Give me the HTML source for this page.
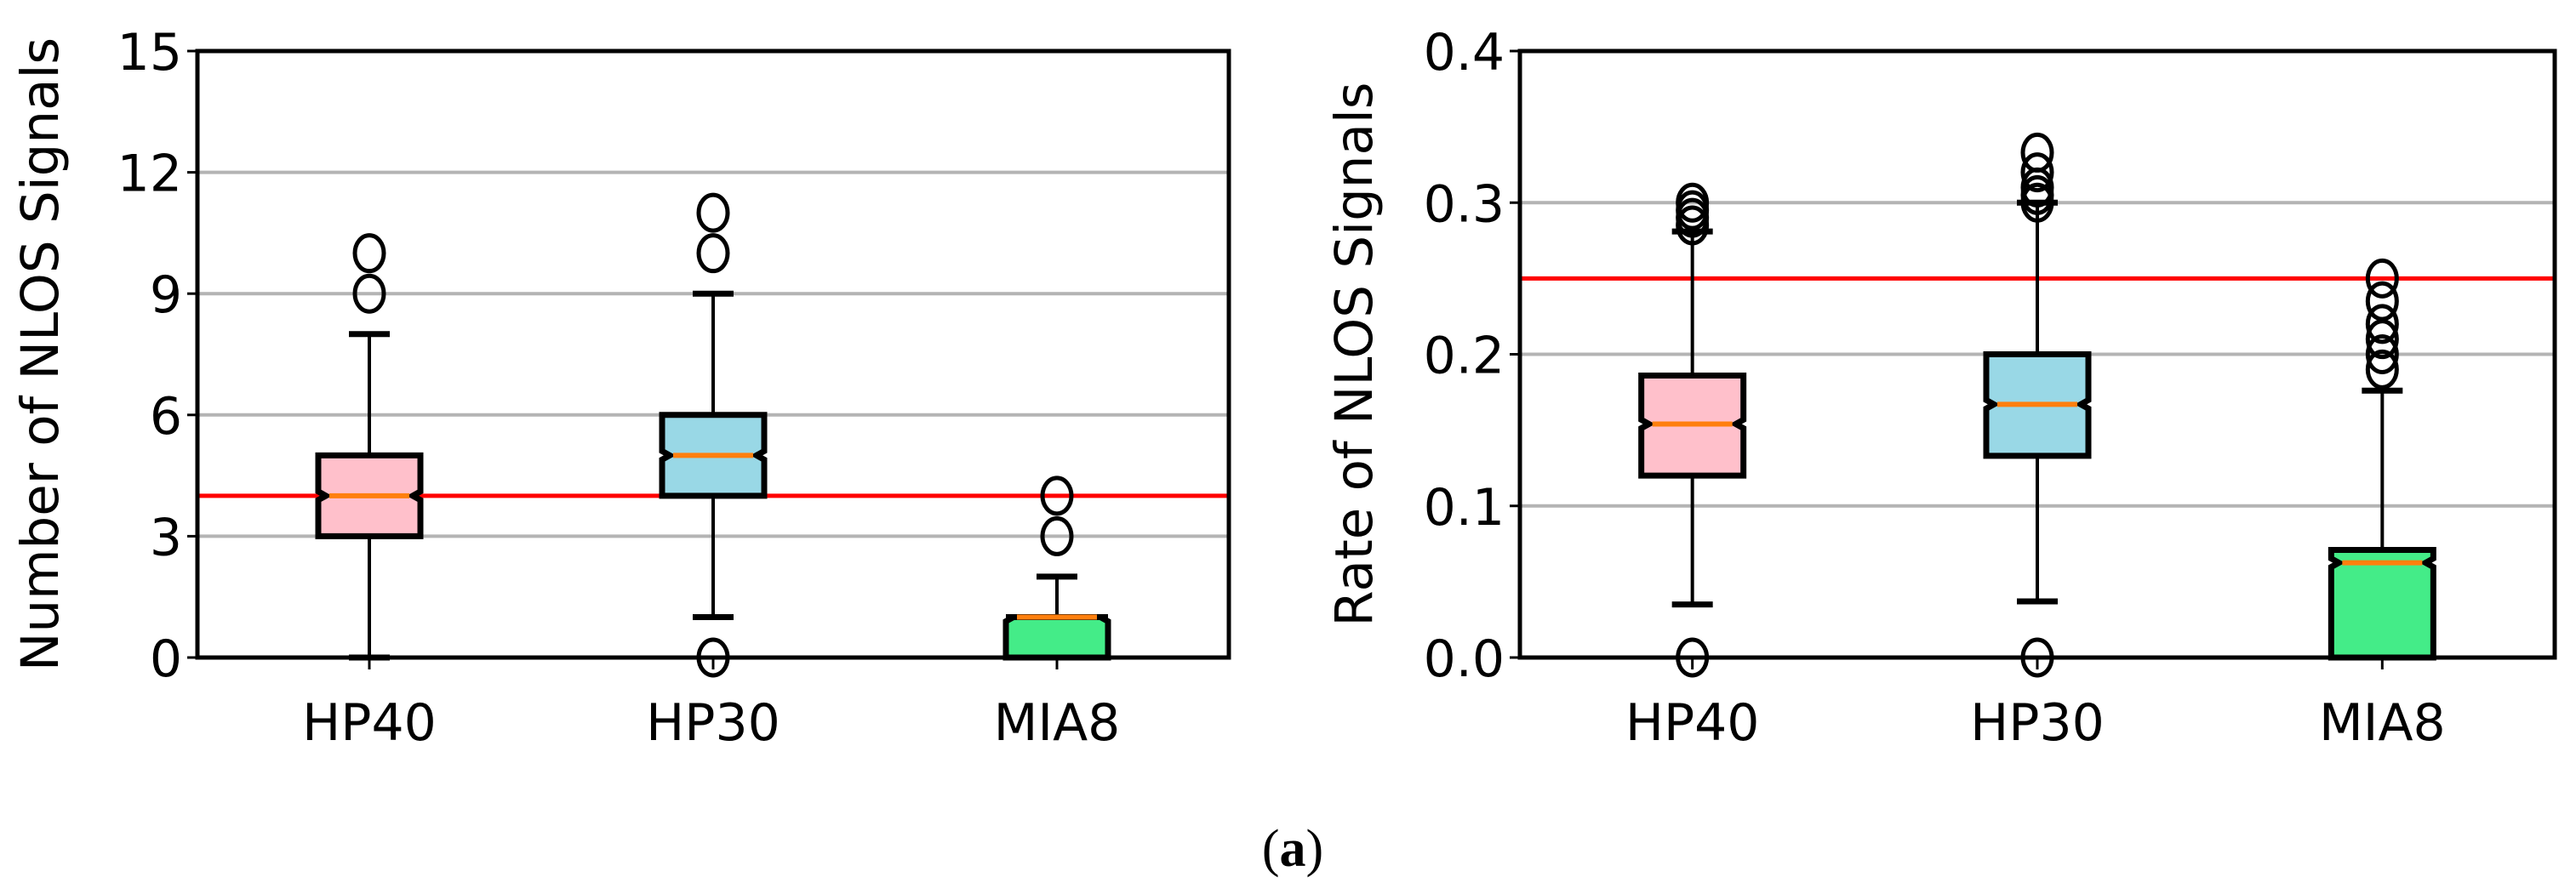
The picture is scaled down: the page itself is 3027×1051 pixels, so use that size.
<!DOCTYPE html>
<html><head><meta charset="utf-8"><style>
html,body{margin:0;padding:0;background:#fff;}
svg{display:block;}
text{font-family:"DejaVu Sans","Liberation Sans",sans-serif;fill:#000;}
</style></head><body>
<svg id="fig" xmlns="http://www.w3.org/2000/svg" width="3027" height="1051" viewBox="0 0 3027 1051">
<text x="1519" y="1018" text-anchor="middle" style="font-family:'Liberation Serif',serif;font-size:62px">(<tspan font-weight="bold">a</tspan>)</text>
</svg>
<script>
const categories = ["HP40","HP30","MIA8"];
// left panel: count
const countQ1 = [3,4,0];
const countMed = [4,5,1];
const countQ3 = [5,6,1];
const countLo = [0,1,0];
const countHi = [8,9,2];
const countFliers = [[9,10],[0,10,11],[3,4]];
const countTicks = [0,3,6,9,12,15];
const countTickLabels = ["0","3","6","9","12","15"];
const countThreshold = 4;
// right panel: rate
const rateQ1 = [0.120,0.133,0];
const rateMed = [0.154,0.167,0.0625];
const rateQ3 = [0.186,0.200,0.071];
const rateLo = [0.035,0.037,0];
const rateHi = [0.281,0.300,0.176];
const rateFliers = [[0,0.285,0.29,0.295,0.30],[0,0.30,0.305,0.31,0.32,0.333],[0.19,0.20,0.21,0.22,0.235,0.25]];
const rateTicks = [0,0.1,0.2,0.3,0.4];
const rateTickLabels = ["0.0","0.1","0.2","0.3","0.4"];
const rateThreshold = 0.25;
const colors = ["#ffc0cb","#99d8e6","#44ec88"];

const NS="http://www.w3.org/2000/svg";
const svg=document.getElementById('fig');
function mk(tag,attrs,parent){const e=document.createElementNS(NS,tag);for(const k in attrs)e.setAttribute(k,attrs[k]);(parent||svg).appendChild(e);return e;}

function panel(opt){
  const g=mk('g',{});
  
  
  const L=opt.x0,R=opt.x1,T=60,B=773;
  const y=v=>B-(v-opt.min)/(opt.max-opt.min)*(B-T);
  const cx=i=>L+(R-L)*(i*2+1)/6;
  opt.ticks.forEach((t,i)=>{
    if(t!==opt.min&&t!==opt.max){const gl=mk('line',{x1:L,x2:R,y1:y(t),y2:y(t),stroke:'#b4b4b4','stroke-width':4},g);
    }
    const tk=mk('line',{x1:L-12,x2:L,y1:y(t),y2:y(t),stroke:'#000','stroke-width':3},g);
    
    const tx=mk('text',{x:L-18,y:y(t)+22,'text-anchor':'end','font-size':60},g);
    tx.textContent=opt.tickLabels[i];
    
  });
  const th=mk('line',{x1:L,x2:R,y1:y(opt.thr),y2:y(opt.thr),stroke:'#ff0000','stroke-width':5},g);
  
  const hw=60;
  categories.forEach((c,i)=>{
    const X=cx(i);
    const bg=mk('g',{},g);
    
    const q1=y(opt.q1[i]),q3=y(opt.q3[i]),md=y(opt.med[i]);
    mk('line',{x1:X,x2:X,y1:q1,y2:y(opt.lo[i]),stroke:'#000','stroke-width':4},bg);
    mk('line',{x1:X,x2:X,y1:q3,y2:y(opt.hi[i]),stroke:'#000','stroke-width':4},bg);
    mk('line',{x1:X-24,x2:X+24,y1:y(opt.lo[i]),y2:y(opt.lo[i]),stroke:'#000','stroke-width':7},bg);
    mk('line',{x1:X-24,x2:X+24,y1:y(opt.hi[i]),y2:y(opt.hi[i]),stroke:'#000','stroke-width':7},bg);
    const nh=5,iw=hw*0.85;
    const n1=Math.min(q1,md+nh),n2=Math.max(q3,md-nh);
    const d=`M${X-hw},${q1} L${X+hw},${q1} L${X+hw},${n1} L${X+iw},${md} L${X+hw},${n2} L${X+hw},${q3} L${X-hw},${q3} L${X-hw},${n2} L${X-iw},${md} L${X-hw},${n1} Z`;
    mk('path',{d:d,fill:colors[i],stroke:'#000','stroke-width':7,'stroke-linejoin':'miter'},bg);
    mk('line',{x1:X-iw+4,x2:X+iw-4,y1:md,y2:md,stroke:'#ff7f0e','stroke-width':6},bg);
    opt.fl[i].forEach(v=>{const f=mk('ellipse',{cx:X,cy:y(v),rx:17,ry:21,fill:'none',stroke:'#000','stroke-width':5},bg);
      });
    const tk=mk('line',{x1:X,x2:X,y1:B,y2:B+14,stroke:'#000','stroke-width':3},g);
    
    const tx=mk('text',{x:X,y:870,'text-anchor':'middle','font-size':60},g);
    tx.textContent=c;
    
  });
  const fr=mk('rect',{x:L,y:T,width:R-L,height:B-T,fill:'none',stroke:'#000','stroke-width':5},g);
  
  const yt=mk('text',{x:0,y:0,'text-anchor':'middle','font-size':61,transform:`translate(${opt.titleX},${(T+B)/2}) rotate(-90)`},g);
  yt.textContent=opt.title;
  
}
panel({name:'count-panel',x0:232,x1:1444,min:0,max:15,ticks:countTicks,tickLabels:countTickLabels,thr:countThreshold,
  q1:countQ1,med:countMed,q3:countQ3,lo:countLo,hi:countHi,fl:countFliers,title:'Number of NLOS Signals',titleX:68});
panel({name:'rate-panel',x0:1786,x1:3002,min:0,max:0.4,ticks:rateTicks,tickLabels:rateTickLabels,thr:rateThreshold,
  q1:rateQ1,med:rateMed,q3:rateQ3,lo:rateLo,hi:rateHi,fl:rateFliers,title:'Rate of NLOS Signals',titleX:1612});
</script>
</body></html>
